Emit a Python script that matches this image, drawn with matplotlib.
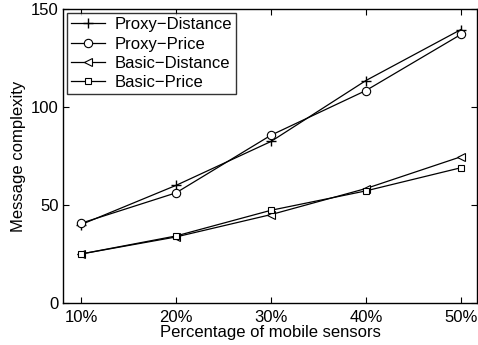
import matplotlib
matplotlib.use("Agg")
import matplotlib.pyplot as plt

# data
pct = [10, 20, 30, 40, 50]
tick_labels = ["10%", "20%", "30%", "40%", "50%"]
proxy_distance = [40, 60, 82.4, 113.5, 139.5]
proxy_price = [40.7, 56.2, 85.6, 108.4, 137]
basic_distance = [25, 33.7, 45.1, 58.4, 74.6]
basic_price = [25, 34.2, 47.3, 57.2, 69]

plt.rcParams['font.family'] = ['Liberation Sans', 'DejaVu Sans']

fig = plt.figure(figsize=(4.78, 3.45), dpi=100)
ax = fig.add_axes([63 / 478, 1 - 303 / 345, 414 / 478, 294 / 345])

ax.plot(pct, proxy_distance, color='black', lw=0.9, marker='+', ms=7, mew=1.0, label='Proxy\u2212Distance')
ax.plot(pct, proxy_price, color='black', lw=0.9, marker='o', ms=6, mfc='white', mew=0.8, label='Proxy\u2212Price')
ax.plot(pct, basic_distance, color='black', lw=0.9, marker='<', ms=6, mfc='white', mew=0.8, label='Basic\u2212Distance')
ax.plot(pct, basic_price, color='black', lw=0.9, marker='s', ms=4.5, mfc='white', mew=0.8, label='Basic\u2212Price')

ax.set_xlim(8.1, 51.7)
ax.set_ylim(0, 150)
ax.set_xticks(pct)
ax.set_xticklabels(tick_labels)
ax.set_yticks([0, 50, 100, 150])
ax.tick_params(direction='in', top=True, right=True, labelsize=12, length=4, width=0.8, pad=3)
ax.tick_params(axis='x', pad=5)
for s in ax.spines.values():
    s.set_linewidth(1.0)

ax.set_xlabel("Percentage of mobile sensors", fontsize=12, labelpad=0)
ax.set_ylabel("Message complexity", fontsize=12, labelpad=4)

leg = ax.legend(loc='upper left', fontsize=12, frameon=True, fancybox=False,
                edgecolor='black', borderpad=0.25, labelspacing=0.25,
                handlelength=2.0, handletextpad=0.6, borderaxespad=0.25)
leg.get_frame().set_linewidth(1.0)

fig.savefig("out.png", dpi=100)
